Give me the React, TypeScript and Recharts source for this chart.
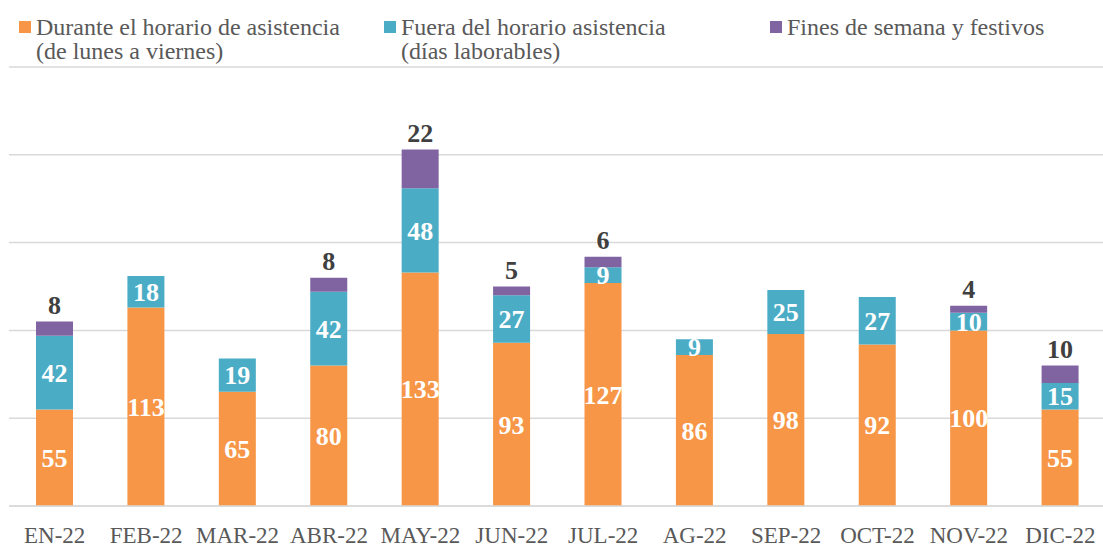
import { BarChart, Bar, XAxis, YAxis, CartesianGrid, Legend, LabelList } from "recharts";

const months = ["EN-22", "FEB-22", "MAR-22", "ABR-22", "MAY-22", "JUN-22", "JUL-22", "AG-22", "SEP-22", "OCT-22", "NOV-22", "DIC-22"];
const durante = [55, 113, 65, 80, 133, 93, 127, 86, 98, 92, 100, 55];
const fuera = [42, 18, 19, 42, 48, 27, 9, 9, 25, 27, 10, 15];
const fines = [8, null, null, 8, 22, 5, 6, null, null, null, 4, 10];
const yTicks = [0, 50, 100, 150, 200, 250];

const seriesNames = {
  durante: ["Durante el horario de asistencia", "(de lunes a viernes)"],
  fuera: ["Fuera del horario asistencia", "(días laborables)"],
  fines: ["Fines de semana y festivos"],
};

const COLORS = { durante: "#F79646", fuera: "#4BACC6", fines: "#8064A2" };
const FONT = '"Liberation Serif", "DejaVu Serif", serif';

const data = months.map((m, i) => ({
  month: m,
  durante: durante[i],
  fuera: fuera[i],
  fines: fines[i],
}));

const legendItems: Array<{ key: keyof typeof COLORS; left: number }> = [
  { key: "durante", left: 19 },
  { key: "fuera", left: 384 },
  { key: "fines", left: 770 },
];

function ChartLegend() {
  return (
    <div style={{ position: "relative", height: 67, width: 1103, fontFamily: FONT, fontSize: 24, color: "#595959" }}>
      {legendItems.map((it) => (
        <div key={it.key} style={{ position: "absolute", left: it.left, top: 15, display: "flex", whiteSpace: "nowrap" }}>
          <div style={{ width: 12, height: 12, background: COLORS[it.key], marginTop: 6, marginRight: 5 }} />
          <div style={{ lineHeight: "24px" }}>
            {seriesNames[it.key].map((line) => (
              <div key={line}>{line}</div>
            ))}
          </div>
        </div>
      ))}
    </div>
  );
}

const hideEmpty = (v: any) => (v ? v : "");

function MonthTick(props: any) {
  const { x, y, payload } = props;
  return (
    <text x={x} y={y} dy={37} textAnchor="middle" fontFamily={FONT} fontSize={23} fill="#595959">
      {payload.value}
    </text>
  );
}

export default function App() {
  return (
    <div style={{ position: "absolute", left: 0, top: 0, width: 1103, height: 548, overflow: "hidden", background: "#fff" }}>
      <BarChart
        width={1106}
        height={548}
        data={data}
        margin={{ top: 0, right: 0, left: 9, bottom: 12 }}
        barSize={37}
        style={{ overflow: "visible" }}
      >
        <CartesianGrid vertical={false} stroke="#d9d9d9" strokeWidth={1.5} />
        <XAxis
          dataKey="month"
          tickLine={false}
          axisLine={{ stroke: "#d9d9d9", strokeWidth: 1.5 }}
          height={30}
          interval={0}
          tickSize={0}
          tickMargin={0}
          tick={<MonthTick />}
        />
        <YAxis hide domain={[0, 250]} ticks={yTicks} />
        <Legend verticalAlign="top" wrapperStyle={{ left: 0, top: 0, width: 1103 }} content={() => <ChartLegend />} />
        <Bar dataKey="durante" stackId="a" fill={COLORS.durante} isAnimationActive={false}>
          <LabelList dataKey="durante" position="center" fill="#fff" fontFamily={FONT} fontSize={26} fontWeight="bold" />
        </Bar>
        <Bar dataKey="fuera" stackId="a" fill={COLORS.fuera} isAnimationActive={false}>
          <LabelList dataKey="fuera" position="center" fill="#fff" fontFamily={FONT} fontSize={26} fontWeight="bold" />
        </Bar>
        <Bar dataKey="fines" stackId="a" fill={COLORS.fines} isAnimationActive={false}>
          <LabelList
            dataKey="fines"
            position="top"
            offset={8}
            formatter={hideEmpty}
            fill="#404040"
            fontFamily={FONT}
            fontSize={26}
            fontWeight="bold"
          />
        </Bar>
      </BarChart>
    </div>
  );
}
